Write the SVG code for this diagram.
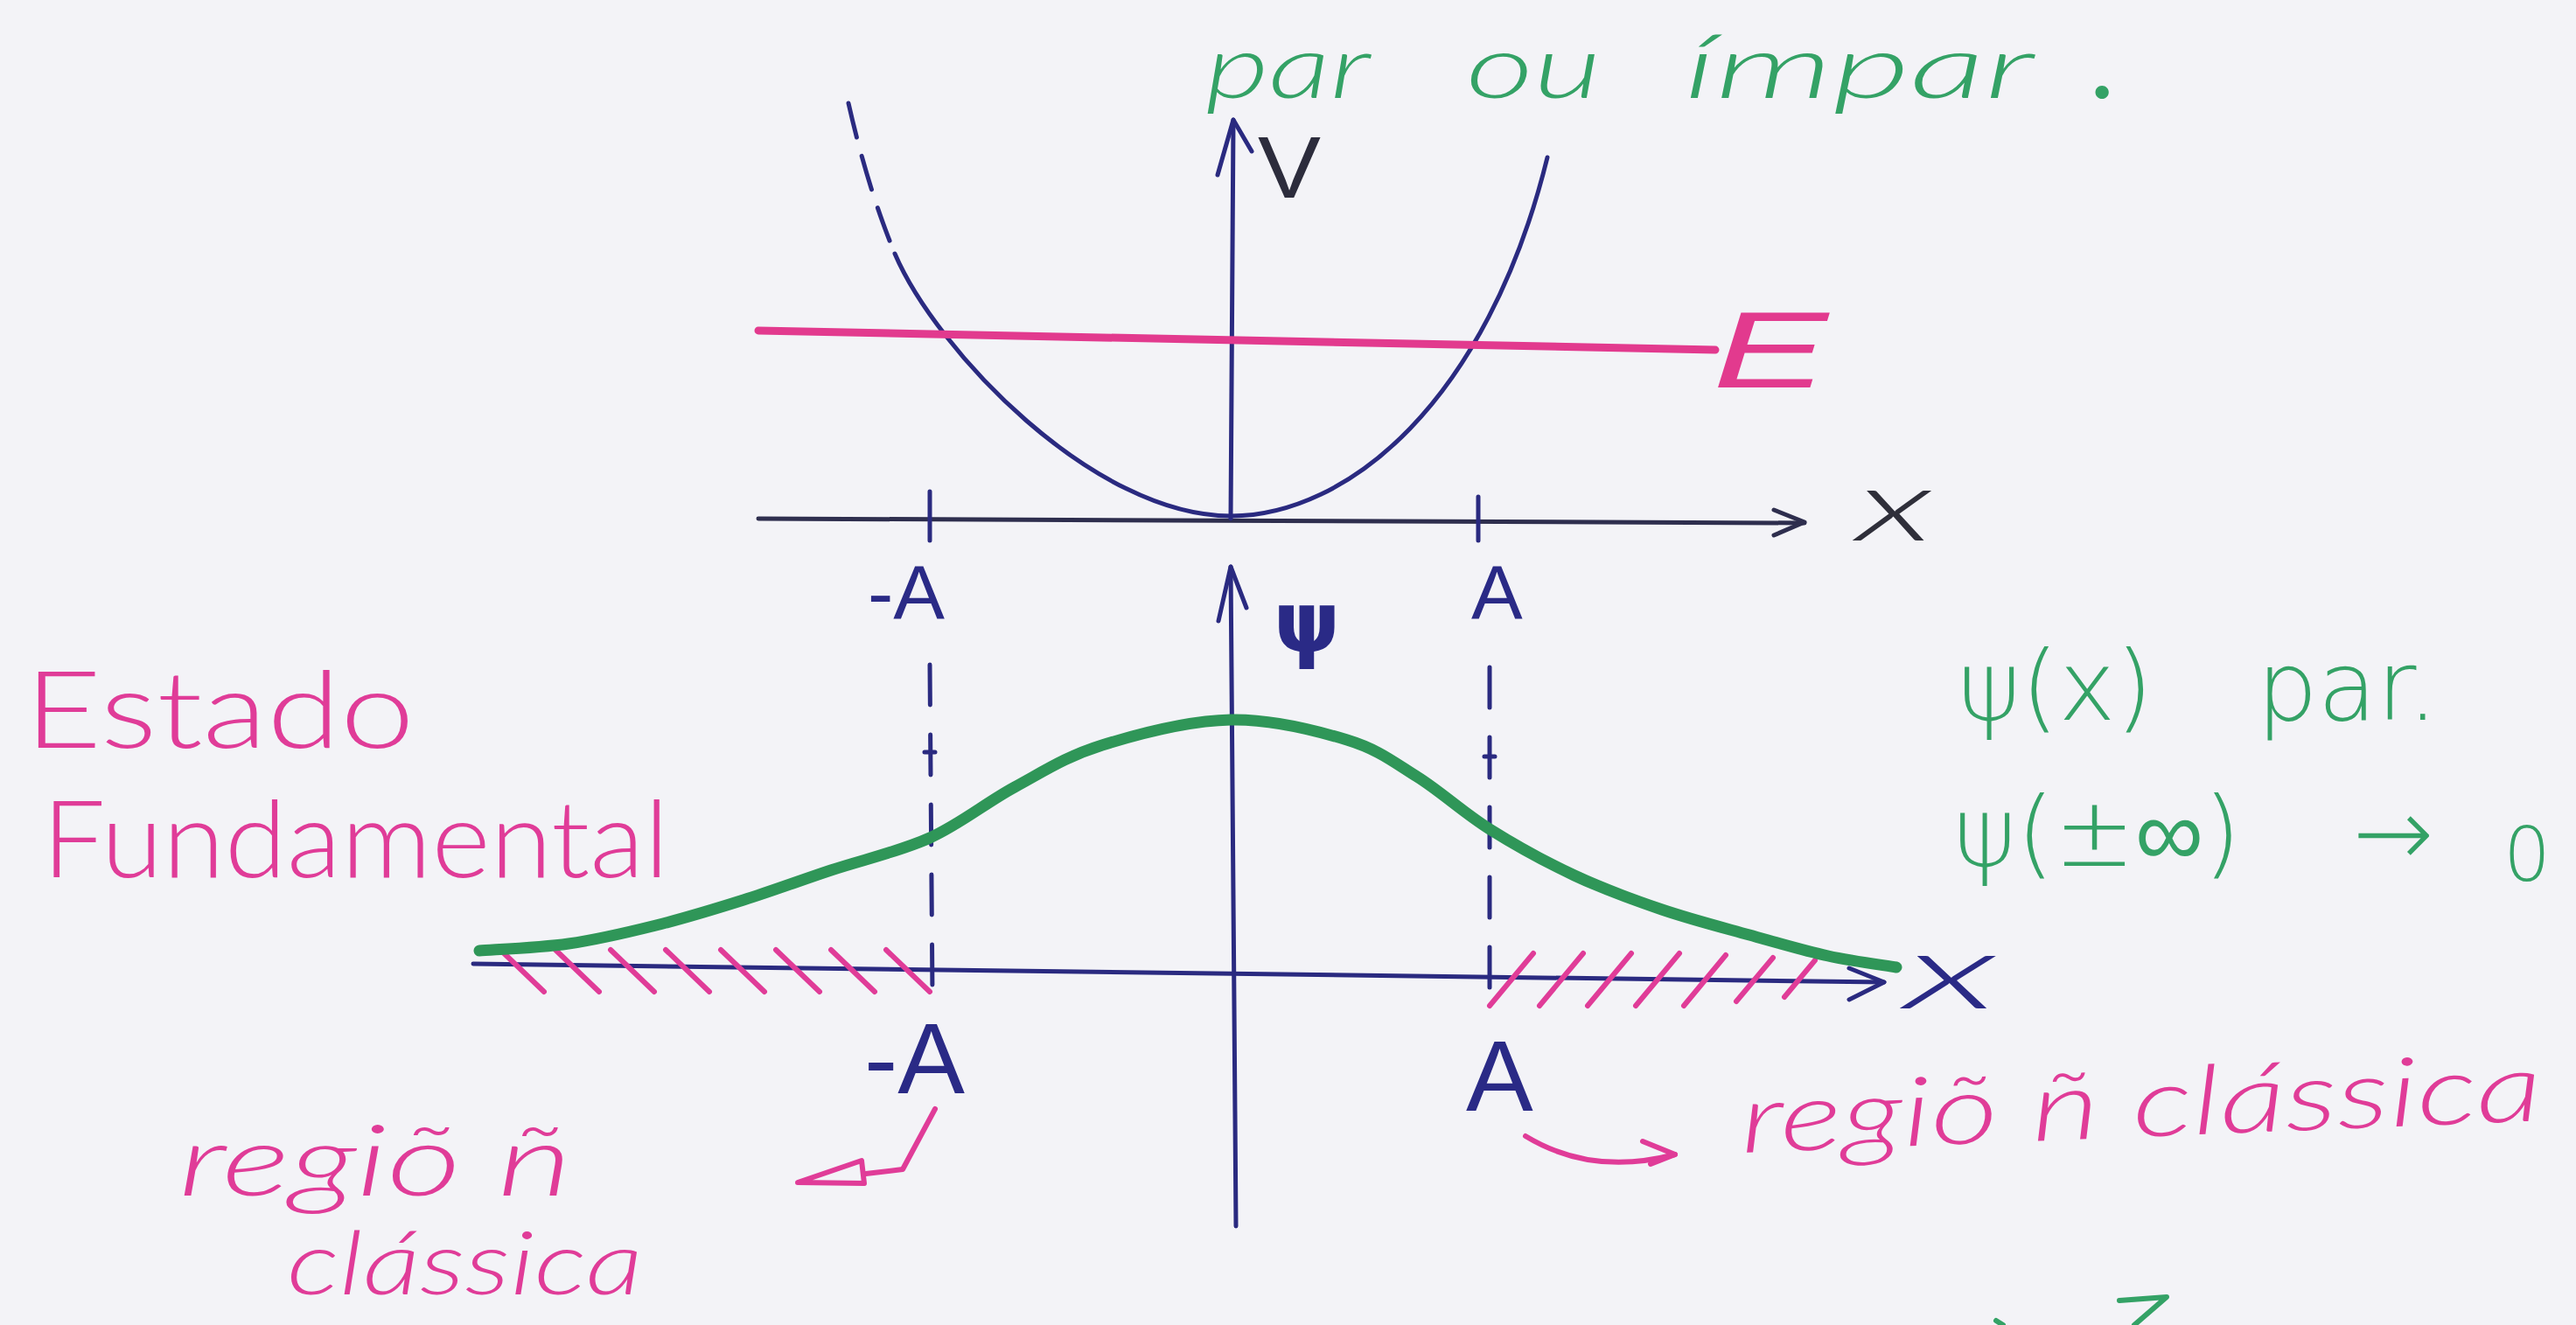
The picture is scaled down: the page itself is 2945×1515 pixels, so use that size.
<svg xmlns="http://www.w3.org/2000/svg" width="2945" height="1515" viewBox="0 0 2945 1515">
<defs>
<style>
.ax{fill:none;stroke:#2a2a80;stroke-width:5;stroke-linecap:round;stroke-linejoin:round}
.axk{fill:none;stroke:#2e2e4e;stroke-width:5;stroke-linecap:round;stroke-linejoin:round}
.dash{stroke-dasharray:46 34}
.pk{fill:none;stroke:#e03c98;stroke-width:6;stroke-linecap:round;stroke-linejoin:round}
.gr{fill:none;stroke:#2f9658;stroke-width:13;stroke-linecap:round;stroke-linejoin:round}
.grt{fill:none;stroke:#34a266;stroke-width:6;stroke-linecap:round;stroke-linejoin:round}
.tb{font-family:"Liberation Sans",Arial,sans-serif;fill:#2a2a86}
.tk{font-family:"Liberation Sans",Arial,sans-serif;fill:#2c2c3c}
.tp{font-family:Lato,"Open Sans","Liberation Sans",sans-serif;font-weight:300;fill:#e03c98}
.tg{font-family:"DejaVu Sans","Liberation Sans",sans-serif;font-weight:200;fill:#34a266}
.tgl{font-family:Lato,"Open Sans","Liberation Sans",sans-serif;font-weight:300;font-style:italic;fill:#34a266}
.cx{font-family:Lato,"Open Sans","Liberation Sans",sans-serif;font-weight:300;font-style:italic}
</style>
</defs>
<rect width="2945" height="1515" fill="#f3f3f7"/>

<g id="potential-axes">
  <path class="axk" d="M867,593 L2063,598"/>
  <path class="axk" d="M2028,583 L2063,597 L2028,612"/>
  <path class="ax" d="M1407,593 L1410,137"/>
  <path class="ax" d="M1392,200 L1410,137 L1431,173"/>
  <path class="ax" d="M1063,562 L1063,618 M1690,568 L1690,618"/>
</g>

<g id="potential-curve">
  <path class="ax" style="stroke-dasharray:40 22" d="M970,118 Q992,215 1023,290"/>
  <path class="ax" d="M1023,290 C1070,400 1250,590 1407,590 C1540,590 1700,460 1769,180"/>
</g>

<g id="energy-level">
  <path d="M867,378 L1961,400" fill="none" stroke="#e23a8e" stroke-width="9" stroke-linecap="round"/>
  <text x="1958" y="443" font-family="Liberation Sans, Arial, sans-serif" font-style="italic" font-size="125" fill="#e23a8e" textLength="132" lengthAdjust="spacingAndGlyphs">E</text>
</g>

<g id="potential-labels">
  <text class="tk" x="1438" y="226" font-size="100" textLength="72" lengthAdjust="spacingAndGlyphs">V</text>
  <text class="cx" x="2122" y="618" font-size="115" fill="#2f2f3a" textLength="88" lengthAdjust="spacingAndGlyphs">x</text>
  <text class="tb" x="1080" y="708" font-size="88" text-anchor="end">-A</text>
  <text class="tb" x="1682" y="708" font-size="88">A</text>
</g>

<g id="title-parity">
  <text class="tgl" y="112" font-size="100"><tspan x="1378" textLength="186" lengthAdjust="spacingAndGlyphs">par</tspan> <tspan x="1676" textLength="155" lengthAdjust="spacingAndGlyphs">ou</tspan> <tspan x="1925" textLength="397" lengthAdjust="spacingAndGlyphs">ímpar</tspan> <tspan x="2394" font-weight="700">.</tspan></text>
</g>

<g id="wavefunction-axes">
  <path class="ax" d="M1407,648 L1413,1402"/>
  <path class="ax" d="M1393,710 L1407,648 L1425,695"/>
  <path class="ax" d="M541,1102 L2154,1123"/>
  <path class="ax" d="M2114,1107 L2154,1123 L2114,1143"/>
  <path class="ax dash" d="M1063,760 L1066,1138"/>
  <path class="ax dash" d="M1703,763 L1703,1151"/>
  <path class="ax" d="M1057,860 L1069,860 M1697,865 L1709,865" stroke-width="3"/>
</g>

<g id="forbidden-hatching">
  <path class="pk" d="M572,1086 l50,48 M635,1086 l50,48 M698,1086 l50,48 M761,1086 l50,48 M824,1086 l50,48 M887,1086 l50,48 M950,1086 l50,48 M1013,1086 l50,48"/>
  <path class="pk" d="M1703,1150 l50,-60 M1760,1150 l50,-60 M1815,1150 l50,-60 M1870,1150 l50,-60 M1925,1150 l48,-58 M1985,1145 l42,-50 M2040,1140 l35,-42"/>
</g>

<g id="wavefunction-curve">
  <path class="gr" d="M548,1087 C565,1085.7 616.3,1083.8 650,1079 C683.7,1074.2 716.7,1066.3 750,1058 C783.3,1049.7 816.7,1039.5 850,1029 C883.3,1018.5 914.5,1006.8 950,995 C985.5,983.2 1028,973.8 1063,958 C1098,942.2 1127.2,917.7 1160,900 C1192.8,882.3 1218.8,864.8 1260,852 C1301.2,839.2 1360.3,824 1407,823 C1453.7,822 1504.5,835.2 1540,846 C1575.5,856.8 1592.8,871 1620,888 C1647.2,905 1673,929.2 1703,948 C1733,966.8 1767.2,985.7 1800,1001 C1832.8,1016.3 1866.7,1028.7 1900,1040 C1933.3,1051.3 1968.3,1060.2 2000,1069 C2031.7,1077.8 2062,1086.8 2090,1093 C2118,1099.2 2155,1103.8 2168,1106"/>
</g>

<g id="wavefunction-labels">
  <text x="1456" y="745" font-family="DejaVu Sans, sans-serif" font-weight="bold" font-size="96" fill="#2a2a86">ψ</text>
  <text class="cx" x="2177" y="1153" font-size="120" fill="#2a2a86" textLength="107" lengthAdjust="spacingAndGlyphs">x</text>
  <text class="tb" x="1103" y="1250" font-size="115" text-anchor="end">-A</text>
  <text class="tb" x="1676" y="1270" font-size="115">A</text>
</g>

<g id="label-estado">
  <text class="tp" x="28" y="855" font-size="122" textLength="446" lengthAdjust="spacingAndGlyphs">Estado</text>
  <text class="tp" x="48" y="1003" font-size="122" textLength="717" lengthAdjust="spacingAndGlyphs">Fundamental</text>
</g>

<g id="label-parity">
  <text class="tg" y="823" font-size="110"><tspan x="2238">ψ(x)</tspan> <tspan x="2580">par.</tspan></text>
  <text class="tg" y="990" font-size="110"><tspan x="2233">ψ(±∞)</tspan> <tspan x="2690">→</tspan> <tspan x="2862" y="1007" font-size="85">0</tspan></text>
</g>

<g id="label-left-region">
  <text class="tp" x="204" y="1367" font-size="112" font-style="italic" textLength="450" lengthAdjust="spacingAndGlyphs">regiõ ñ</text>
  <text class="tp" x="328" y="1480" font-size="100" font-style="italic" textLength="407" lengthAdjust="spacingAndGlyphs">clássica</text>
</g>

<g id="label-right-region">
  <text class="tp" x="1991" y="1318" font-size="110" font-style="italic" transform="rotate(-2.3 1991 1318)" textLength="917" lengthAdjust="spacingAndGlyphs">regiõ ñ clássica</text>
</g>

<g id="connectors">
  <path class="pk" d="M1069,1268 L1032,1337 L990,1342"/>
  <path class="pk" d="M912,1352 L985,1327 L988,1353 Z"/>
  <path class="pk" d="M1744,1299 Q1820,1345 1915,1320"/>
  <path class="pk" d="M1878,1305 L1915,1320 L1887,1331"/>
</g>

<g id="margin-mark">
  <path class="grt" d="M2423,1487 L2477,1483 L2440,1515 M2282,1510 L2290,1515"/>
</g>
</svg>
